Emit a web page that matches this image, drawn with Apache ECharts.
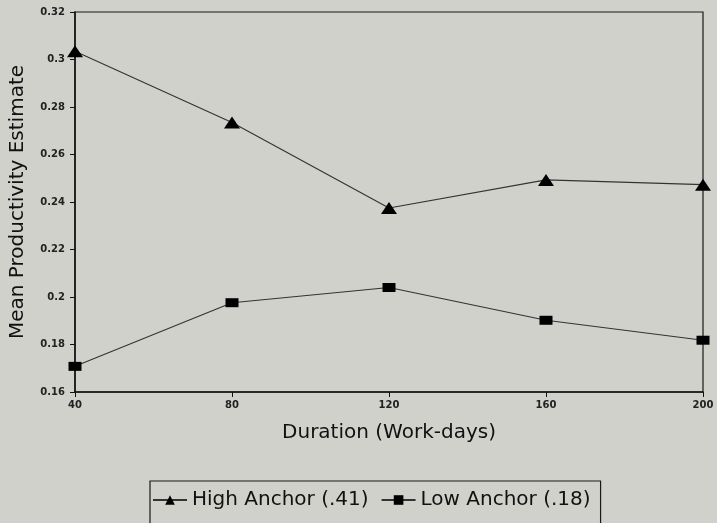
<!DOCTYPE html>
<html>
<head>
<meta charset="utf-8">
<script src="https://cdn.jsdelivr.net/npm/echarts@6/dist/echarts.min.js"></script>
<style>
html,body{margin:0;padding:0;background:#d0d1cb;}
#chart{width:717px;height:523px;}
</style>
</head>
<body>
<div id="chart"></div>
<script>
const durations = [40, 80, 120, 160, 200];
const highAnchor = [0.3035, 0.2735, 0.2375, 0.2493, 0.2473];
const lowAnchor = [0.1708, 0.1976, 0.2040, 0.1902, 0.1818];
const seriesNames = ['High Anchor (.41)', 'Low Anchor (.18)'];
const xTitle = 'Duration (Work-days)';
const yTitle = 'Mean Productivity Estimate';

const font = '"DejaVu Sans", sans-serif';
const chart = echarts.init(document.getElementById('chart'));
const pairs = vals => durations.map((d, i) => [d, vals[i]]);
chart.setOption({
  backgroundColor: '#d0d1cb',
  animation: false,
  grid: {left: 74, right: 14, top: 12, bottom: 131, show: true, borderColor: '#1a1a1a', borderWidth: 1.2, backgroundColor: 'transparent'},
  xAxis: {
    type: 'value', min: 40, max: 200, interval: 40,
    name: xTitle, nameLocation: 'middle', nameGap: 31,
    nameTextStyle: {fontFamily: font, fontSize: 20, color: '#111'},
    axisLine: {lineStyle: {color: '#111', width: 1.5}},
    axisTick: {show: true, length: 5, lineStyle: {color: '#111'}},
    axisLabel: {fontFamily: font, fontSize: 10, fontWeight: 'bold', color: '#222', margin: 8},
    splitLine: {show: false}
  },
  yAxis: {
    type: 'value', min: 0.16, max: 0.32, interval: 0.02,
    name: yTitle, nameLocation: 'middle', nameGap: 47,
    nameTextStyle: {fontFamily: font, fontSize: 20, color: '#111'},
    axisLine: {show: true, lineStyle: {color: '#111', width: 1.5}},
    axisTick: {show: true, length: 5, lineStyle: {color: '#111'}},
    axisLabel: {fontFamily: font, fontSize: 10, fontWeight: 'bold', color: '#222', margin: 10},
    splitLine: {show: false}
  },
  legend: {
    left: 150, top: 481,
    padding: [9, 10, 30, 2],
    borderColor: '#1a1a1a', borderWidth: 1.2,
    itemWidth: 34, itemHeight: 12, itemGap: 12,
    textStyle: {fontFamily: font, fontSize: 20, color: '#111'},
    data: seriesNames
  },
  series: [
    {name: seriesNames[0], type: 'line', data: pairs(highAnchor), symbol: 'triangle', symbolSize: [16, 12],
     itemStyle: {color: '#000'}, lineStyle: {color: '#333', width: 1.1}},
    {name: seriesNames[1], type: 'line', data: pairs(lowAnchor), symbol: 'rect', symbolSize: [13, 9],
     itemStyle: {color: '#000'}, lineStyle: {color: '#333', width: 1.1}}
  ]
});
</script>
</body>
</html>
